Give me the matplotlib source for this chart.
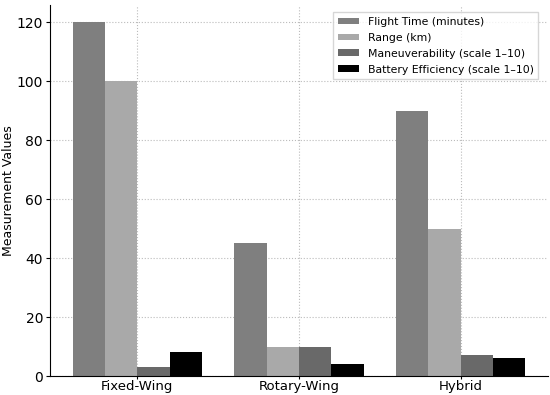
import numpy as np
import matplotlib
matplotlib.use("Agg")
import matplotlib.pyplot as plt

categories = ["Fixed-Wing", "Rotary-Wing", "Hybrid"]
series_names = ["Flight Time (minutes)", "Range (km)",
                "Maneuverability (scale 1\u201310)", "Battery Efficiency (scale 1\u201310)"]
flight_time = [120, 45, 90]
range_km = [100, 10, 50]
maneuverability = [3, 10, 7]
battery_eff = [8, 4, 6]

colors = ["#7f7f7f", "#a9a9a9", "#696969", "#000000"]

fig = plt.figure(figsize=(5.5, 3.95), dpi=100)
ax = fig.add_axes([0.091, 0.048, 0.905, 0.94])

x = np.arange(len(categories))
w = 0.2
data = [flight_time, range_km, maneuverability, battery_eff]
for i, (vals, name) in enumerate(zip(data, series_names)):
    ax.bar(x + (i - 1.5) * w, vals, w, label=name, color=colors[i], zorder=2)

ax.set_xticks(x)
ax.set_xticklabels(categories, fontsize=9.5)
ax.tick_params(axis="x", length=2, pad=1)
ax.tick_params(axis="y", labelsize=10, length=3, pad=2)
ax.set_ylabel("Measurement Values", fontsize=9)
ax.yaxis.set_label_coords(-0.07, 0.5)
ax.set_ylim(0, 126)
ax.grid(True, linestyle=":", color="#bbbbbb", linewidth=0.8, zorder=0)
ax.spines["top"].set_visible(False)
ax.spines["right"].set_visible(False)
ax.legend(loc="upper right", fontsize=7.8, handlelength=2.0, handleheight=0.6,
          labelspacing=0.55, borderaxespad=0.2, bbox_to_anchor=(0.985, 0.985),
          fancybox=False)

fig.savefig("out.png")
